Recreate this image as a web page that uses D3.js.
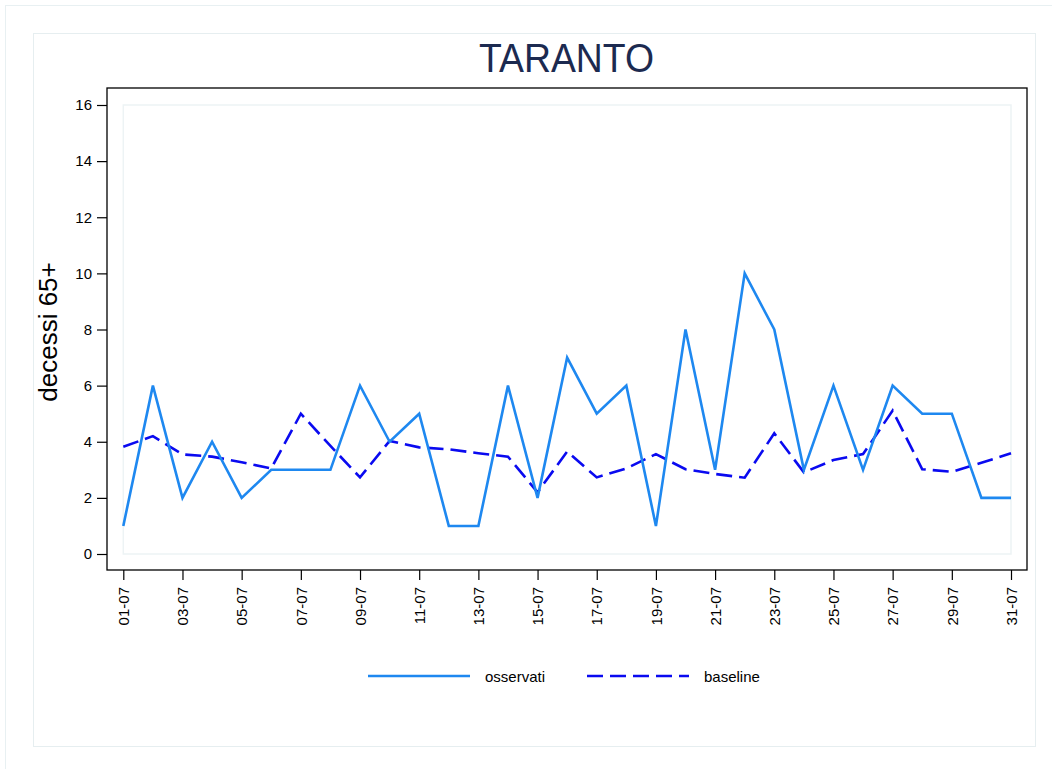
<!DOCTYPE html>
<html>
<head>
<meta charset="utf-8">
<script src="https://cdn.jsdelivr.net/npm/d3@7"></script>
<style>
  body { margin: 0; background: #fff; }
  text { font-family: "Liberation Sans", Arial, sans-serif; }
</style>
</head>
<body>
<div id="chart"></div>
<script>
// giorni di luglio
var days = ["01-07","02-07","03-07","04-07","05-07","06-07","07-07","08-07","09-07","10-07",
            "11-07","12-07","13-07","14-07","15-07","16-07","17-07","18-07","19-07","20-07",
            "21-07","22-07","23-07","24-07","25-07","26-07","27-07","28-07","29-07","30-07","31-07"];

var osservati = [1,6,2,4,2,3,3,3,6,4, 5,1,1,6,2,7,5,6,1,8, 3,10,8,3,6,3,6,5,5,2,2];

var baseline = [3.82,4.2,3.55,3.47,3.27,3.05,5.0,3.85,2.73,4.03,
                3.8,3.73,3.59,3.47,2.2,3.65,2.73,3.05,3.56,3.02,
                2.85,2.72,4.3,2.91,3.35,3.56,5.11,3.02,2.93,3.25,3.59];

var yTicks = [0,2,4,6,8,10,12,14,16];
var xTickLabels = days.filter(function(d, i){ return i % 2 === 0; });

var width = 1052, height = 769;
var frame = {left: 107, top: 88, right: 1027, bottom: 570};

var svg = d3.select("#chart").append("svg")
    .attr("width", width)
    .attr("height", height);

// cornici chiare
svg.append("rect")
    .attr("x", 5.5).attr("y", 5.5)
    .attr("width", width + 20).attr("height", height + 20)
    .attr("fill", "none").attr("stroke", "#e8f0f2");
svg.append("rect")
    .attr("x", 33.5).attr("y", 33.5)
    .attr("width", 1002).attr("height", 713)
    .attr("fill", "#fff").attr("stroke", "#e6eef0");

var x = d3.scalePoint().domain(days).range([123.3, 1011]);
var y = d3.scaleLinear().domain([0, 16]).range([554, 105]);

// titolo
svg.append("text")
    .attr("x", 566.5).attr("y", 72)
    .attr("text-anchor", "middle")
    .attr("font-size", 41)
    .attr("textLength", 175)
    .attr("lengthAdjust", "spacingAndGlyphs")
    .attr("fill", "#1c2a50")
    .text("TARANTO");

// area del grafico
svg.append("rect")
    .attr("x", frame.left).attr("y", frame.top)
    .attr("width", frame.right - frame.left).attr("height", frame.bottom - frame.top)
    .attr("fill", "#fff").attr("stroke", "#000").attr("stroke-width", 1.3);

svg.append("rect")
    .attr("x", x(days[0])).attr("y", y(16))
    .attr("width", x(days[days.length-1]) - x(days[0])).attr("height", y(0) - y(16))
    .attr("fill", "none").attr("stroke", "#edf3f5").attr("stroke-width", 1.5);

// asse y
var yAxis = svg.append("g")
    .attr("transform", "translate(" + frame.left + ",0)")
    .call(d3.axisLeft(y).tickValues(yTicks).tickSize(10).tickPadding(5));
yAxis.select(".domain").remove();
yAxis.selectAll("line").attr("stroke", "#000").attr("stroke-width", 1.2);
yAxis.selectAll("text").attr("font-size", 15).attr("fill", "#000")
    .style("font-family", "'Liberation Sans', Arial, sans-serif");

// asse x
var xAxis = svg.append("g")
    .attr("transform", "translate(0," + frame.bottom + ")")
    .call(d3.axisBottom(x).tickValues(xTickLabels).tickSize(10).tickPadding(5));
xAxis.select(".domain").remove();
xAxis.selectAll("line").attr("stroke", "#000").attr("stroke-width", 1.2);
xAxis.selectAll("text")
    .attr("font-size", 15).attr("fill", "#000")
    .style("font-family", "'Liberation Sans', Arial, sans-serif")
    .attr("text-anchor", "end")
    .attr("transform", "rotate(-90)")
    .attr("x", -17).attr("y", 0).attr("dy", "0.35em");

// titolo asse y
svg.append("text")
    .attr("transform", "translate(57,332) rotate(-90)")
    .attr("text-anchor", "middle")
    .attr("font-size", 26)
    .attr("fill", "#000")
    .text("decessi 65+");

var line = d3.line()
    .x(function(d, i){ return x(days[i]); })
    .y(function(d){ return y(d); });

svg.append("path")
    .datum(baseline)
    .attr("d", line)
    .attr("fill", "none")
    .attr("stroke", "#0a0af0")
    .attr("stroke-width", 2.6)
    .attr("stroke-dasharray", "16,7");

svg.append("path")
    .datum(osservati)
    .attr("d", line)
    .attr("fill", "none")
    .attr("stroke", "#1e88f0")
    .attr("stroke-width", 2.6)
    .attr("stroke-linejoin", "miter");

// legenda
var legend = [
  {name: "osservati", color: "#1e88f0", dash: null, x1: 368, x2: 470, tx: 485},
  {name: "baseline", color: "#0a0af0", dash: "16,7", x1: 587, x2: 689, tx: 704}
];
var lg = svg.append("g");
legend.forEach(function(l){
  lg.append("line")
    .attr("x1", l.x1).attr("x2", l.x2)
    .attr("y1", 676).attr("y2", 676)
    .attr("stroke", l.color).attr("stroke-width", 2.6)
    .attr("stroke-dasharray", l.dash);
  lg.append("text")
    .attr("x", l.tx).attr("y", 681.5)
    .attr("font-size", 15)
    .attr("fill", "#000")
    .text(l.name);
});
</script>
</body>
</html>
